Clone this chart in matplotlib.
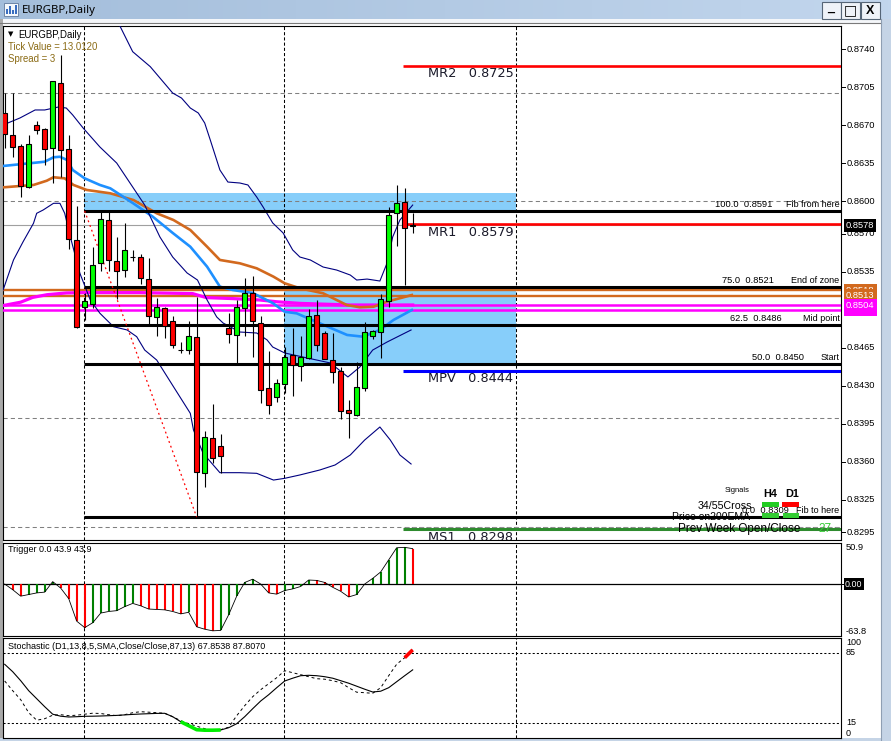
import numpy as np
import matplotlib
matplotlib.use("Agg")
import matplotlib.pyplot as plt
from matplotlib.patches import Rectangle
from matplotlib.colors import LinearSegmentedColormap
from matplotlib.transforms import blended_transform_factory

plt.rcParams['font.family'] = ['Liberation Sans', 'DejaVu Sans']

# ---------------- data ----------------
opens  = [0.86810, 0.86608, 0.86506, 0.86134, 0.86700, 0.86663, 0.86488, 0.87087, 0.86479, 0.85640,
          0.85026, 0.85056, 0.85431, 0.85824, 0.85447, 0.85364, 0.85489, 0.85484, 0.85284, 0.84931,
          0.85016, 0.84894, 0.84629, 0.84627, 0.84746, 0.83499, 0.83816, 0.83742, 0.84832, 0.84765,
          0.85016, 0.85157, 0.84881, 0.84276, 0.84196, 0.84316, 0.84581, 0.84479, 0.84558, 0.84949,
          0.84783, 0.84534, 0.84433, 0.84077, 0.84028, 0.84276, 0.84756, 0.84795, 0.85084, 0.85892,
          0.85996, 0.85775]
highs  = [0.86995, 0.86995, 0.86527, 0.86610, 0.86739, 0.86675, 0.87108, 0.87347, 0.86608, 0.85956,
          0.85155, 0.85576, 0.85904, 0.85904, 0.85671, 0.85797, 0.85548, 0.85514, 0.85477, 0.85111,
          0.85028, 0.84943, 0.84700, 0.84897, 0.85120, 0.83886, 0.84132, 0.83855, 0.84970, 0.85090,
          0.85293, 0.85311, 0.84943, 0.84617, 0.84365, 0.84660, 0.84829, 0.84761, 0.85004, 0.85090,
          0.84804, 0.84789, 0.84470, 0.84171, 0.84519, 0.84885, 0.84814, 0.85143, 0.85944, 0.86150,
          0.86119, 0.85894]
lows   = [0.86491, 0.86405, 0.86042, 0.86125, 0.86620, 0.86334, 0.86171, 0.86226, 0.85557, 0.84829,
          0.84906, 0.85014, 0.85360, 0.85360, 0.85102, 0.85305, 0.85452, 0.85238, 0.84853, 0.84761,
          0.84743, 0.84651, 0.84599, 0.84595, 0.83093, 0.83364, 0.83591, 0.83493, 0.84697, 0.84507,
          0.84761, 0.84568, 0.84138, 0.84042, 0.84147, 0.84230, 0.84208, 0.84347, 0.84549, 0.84620,
          0.84542, 0.84328, 0.83996, 0.83816, 0.84021, 0.84254, 0.84733, 0.84558, 0.85028, 0.85590,
          0.85228, 0.85710]
closes = [0.86620, 0.86497, 0.86143, 0.86525, 0.86654, 0.86479, 0.87105, 0.86469, 0.85655, 0.84844,
          0.85081, 0.85410, 0.85834, 0.85456, 0.85355, 0.85548, 0.85489, 0.85290, 0.84940, 0.85023,
          0.84851, 0.84678, 0.84629, 0.84756, 0.83508, 0.83825, 0.83632, 0.83655, 0.84780, 0.85023,
          0.85152, 0.84894, 0.84258, 0.84120, 0.84322, 0.84568, 0.84491, 0.84568, 0.84943, 0.84673,
          0.84546, 0.84427, 0.84065, 0.84046, 0.84286, 0.84792, 0.84802, 0.85097, 0.85871, 0.85981,
          0.85751, 0.85780]

# Bollinger bands (bar index, price)
upper_x = [12.5, 14.4, 16.0, 18.2, 21.0, 22.1, 23.2, 24.2, 25.0, 25.7, 26.9, 27.9, 29.4, 30.4, 31.5,
           32.3, 33.5, 34.8, 36.0, 36.9, 38.2, 39.8, 41.5, 43.2, 44.0, 45.3, 46.9, 47.8, 48.5, 49.4, 51.0]
upper_y = [0.8790, 0.87615, 0.87378, 0.87240, 0.86997, 0.86951, 0.86859, 0.86813, 0.86721, 0.86564,
           0.86288, 0.86177, 0.86168, 0.86150, 0.86039, 0.85947, 0.85800, 0.85708, 0.85551, 0.85486,
           0.85459, 0.85394, 0.85366, 0.85320, 0.85274, 0.85283, 0.85265, 0.85431, 0.85671, 0.85827,
           0.85965]
mid_x = [-0.2, 1.9, 3.8, 5.0, 6.7, 7.7, 8.5, 9.8, 11.9, 14.0, 16.0, 17.5, 19.4, 21.0, 22.8, 24.1,
         25.3, 26.5, 27.3, 29.4, 31.5, 32.8, 33.5, 35.0, 37.8, 40.7, 42.9, 44.4, 46.0, 47.8, 50.8]
mid_y = [0.86703, 0.86767, 0.86841, 0.86841, 0.86868, 0.86859, 0.86795, 0.86675, 0.86500, 0.86352,
         0.86131, 0.85965, 0.85671, 0.85486, 0.85339, 0.85274, 0.85090, 0.84934, 0.84878, 0.84795,
         0.84786, 0.84722, 0.84657, 0.84602, 0.84556, 0.84510, 0.84381, 0.84473, 0.84629, 0.84703,
         0.84814]
lower_x = [-0.2, 1.1, 2.3, 3.6, 4.0, 4.8, 6.1, 6.9, 7.5, 8.2, 9.4, 10.7, 11.9, 13.6, 15.3, 16.5,
           17.5, 19.0, 21.1, 23.2, 23.6, 24.8, 26.9, 29.4, 31.5, 33.6, 35.0, 36.9, 39.4, 41.3, 43.2,
           45.0, 46.9, 48.2, 49.4, 50.8]
lower_y = [0.85182, 0.85459, 0.85627, 0.85797, 0.85889, 0.85919, 0.85981, 0.85981, 0.85889, 0.85673,
           0.85336, 0.85090, 0.84968, 0.84844, 0.84814, 0.84752, 0.84629, 0.84537, 0.84291, 0.84046,
           0.83892, 0.83678, 0.83499, 0.83499, 0.83493, 0.83431, 0.83447, 0.83478, 0.83524, 0.83570,
           0.83662, 0.83800, 0.83920, 0.83800, 0.83662, 0.83579]

# moving averages
ema_blue_x = [-0.2, 5.0, 6.1, 6.9, 7.8, 8.5, 10.0, 11.9, 13.2, 16.0, 18.5, 21.0, 23.2, 25.3, 26.9,
              28.5, 31.0, 33.5, 35.0, 36.5, 39.4, 42.8, 44.8, 46.9, 48.6, 50.9]
ema_blue_y = [0.86325, 0.86364, 0.86405, 0.86410, 0.86380, 0.86288, 0.86211, 0.86150, 0.86119, 0.85984,
              0.85858, 0.85708, 0.85581, 0.85397, 0.85213, 0.85182, 0.85155, 0.85062, 0.84982, 0.84967,
              0.84875, 0.84768, 0.84752, 0.84814, 0.84906, 0.84998]
ema_orange_x = [-0.2, 3.6, 5.25, 6.1, 7.5, 8.6, 10.25, 13.2, 16.1, 19.0, 21.1, 23.2, 25.3, 26.9, 29.4,
                31.5, 33.6, 35.0, 36.9, 39.8, 42.75, 44.4, 46.1, 47.75, 50.9]
ema_orange_y = [0.86128, 0.86150, 0.86189, 0.86221, 0.86211, 0.86150, 0.86104, 0.86073, 0.86011, 0.85889,
                0.85827, 0.85735, 0.85581, 0.85459, 0.85428, 0.85382, 0.85305, 0.85244, 0.85198, 0.85152,
                0.85044, 0.85023, 0.85028, 0.85074, 0.85136]
ma_magenta_x = [-0.2, 2.0, 3.5, 5.3, 7.7, 9.8, 16.9, 23.5, 25.2, 28.5, 31.9, 34.0, 36.9, 43.2, 51.0]
ma_magenta_y = [0.85039, 0.85070, 0.85114, 0.85139, 0.85155, 0.85158, 0.85158, 0.85149, 0.85112,
                0.85103, 0.85090, 0.85074, 0.85059, 0.85044, 0.85044]

# trigger histogram and stochastic
trigger_vals = [0, -7, -15, -13, -11, -10, 3, -5, -18, -46, -54, -48, -36, -34, -33, -28, -24, -27,
                -31, -31.5, -32, -34, -37, -35, -53, -56, -58, -57.5, -38, -15, 2, 6, 0, -11, -12.5,
                -8, -6, -3, 5, 4.5, 2, -4, -9, -16, -13, 0, 7, 15, 30, 45, 45.5, 43.9]
stoch_main = [73.4, 66, 57, 47, 39, 31, 23.5, 21.5, 20.7, 21, 21.4, 21.5, 21.7, 22, 22.3, 22.8, 23.3,
              23.7, 24, 24.3, 24.4, 21, 16, 12, 8, 7.5, 7.5, 7.7, 10, 14, 21, 29, 36.7, 43, 50, 56.7,
              59.5, 62, 62.4, 62, 61, 59.5, 57, 54.5, 51.5, 48.5, 45.7, 46.5, 50, 56, 62, 67.85]
stoch_signal = [56.7, 47, 38, 25, 17.5, 19, 22.5, 23, 22, 22.5, 23.5, 24.5, 24.2, 23, 22, 23, 25, 26,
                25.5, 25, 24.4, 21, 17, 14, 11.5, 9, 7.5, 8, 10.5, 22, 32, 41, 48, 54, 60, 67, 65, 63,
                61, 59, 58.5, 57, 55, 50, 45.5, 45, 44.4, 50, 62, 73.5, 80, 87.81]

price_ticks = [0.8740, 0.8705, 0.8670, 0.8635, 0.8600, 0.8570, 0.8535, 0.8465, 0.8430, 0.8395,
               0.8360, 0.8325, 0.8295]
grid_levels = [0.8700, 0.8600, 0.8500, 0.8400, 0.8300]
period_seps = [9.95, 34.95, 63.9]

fib_from = (10, 0.8591)
fib_to = (24, 0.8309)
fib_levels = [0.8591, 0.8521, 0.8486, 0.8450, 0.8309]
fib_texts = ["100.0  0.8591", "75.0  0.8521", "62.5  0.8486", "50.0  0.8450", "0.0  0.8309"]
fib_descs = ["Fib from here", "End of zone", "Mid point", "Start", "Fib to here"]
zones = [(9.95, 63.9, 0.8591, 0.86073), (34.95, 63.9, 0.8450, 0.8521)]

pivot_names = ["MR2", "MR1", "MPV", "MS1"]
pivot_vals = [0.8725, 0.8579, 0.8444, 0.8298]
pivot_cols = ['#ff0000', '#ff0000', '#0000ff', '#2e8b2e']
pivot_start = 49.8

orange_levels = [0.8518, 0.8513]
magenta_levels = [0.8504, 0.8500]
bid = 0.8578

# ---------------- figure ----------------
W, H = 891, 741
fig = plt.figure(figsize=(W / 100, H / 100), dpi=100)
fig.patch.set_facecolor('white')


def fbox(x0, y0, x1, y1):
    return [x0 / W, 1 - y1 / H, (x1 - x0) / W, (y1 - y0) / H]


n = len(opens)
XL = (-0.2125, 104.54)

# window chrome (background)
bg = fig.add_axes([0, 0, 1, 1], zorder=-5)
cm = LinearSegmentedColormap.from_list('tb', ['#a4bedb', '#c2d6ed'])
bg.imshow(np.linspace(0, 1, 256)[None, :], extent=(0, W, 19, 0), cmap=cm, aspect='auto')
bg.add_patch(Rectangle((0, 19), W, 4, fc='#f4f6f9', ec='none'))
bg.plot([0, 881], [22.5, 22.5], color='#7a7a7a', lw=0.8)
bg.add_patch(Rectangle((0, 19), 3, H, fc='#a9a9a9', ec='none'))
bg.add_patch(Rectangle((881, 19), 10, H, fc='#c5d4e6', ec='none'))
bg.plot([881, 881], [19, H], color='#8f9fb3', lw=0.8)
bg.add_patch(Rectangle((0, 738), W, 3, fc='#c5d4e6', ec='none'))
bg.set_xlim(0, W)
bg.set_ylim(H, 0)
bg.axis('off')

# ---------------- main panel ----------------
ax = fig.add_axes(fbox(3, 25.5, 841, 540))
ax.set_xlim(*XL)
ax.set_ylim(0.828787, 0.876193)
ax.set_xticks([])
ax.set_yticks([])
for s in ax.spines.values():
    s.set_color('black')
    s.set_linewidth(0.8)

tr = blended_transform_factory(fig.transFigure, ax.transData)

for x0, x1, y0, y1 in zones:
    ax.add_patch(Rectangle((x0, y0), x1 - x0, y1 - y0, fc='#87cefa', ec='none', zorder=1))

for g in grid_levels:
    ax.axhline(g, color='#808080', lw=0.75, ls=(0, (4, 3)), zorder=2)
for v in period_seps:
    ax.axvline(v, color='black', lw=0.75, ls=(0, (3, 2)), zorder=2)

ax.axhline(bid, color='#a0a0a0', lw=0.8, zorder=2)

for lv in orange_levels:
    ax.axhline(lv, color='#d2691e', lw=1.7, zorder=3)
for lv in magenta_levels:
    ax.axhline(lv, color='#ff00ff', lw=1.8, zorder=3)

ax.plot(ma_magenta_x, ma_magenta_y, color='#ff00ff', lw=2.3, zorder=3)
ax.plot(ema_orange_x, ema_orange_y, color='#d2691e', lw=1.9, zorder=4)
ax.plot(ema_blue_x, ema_blue_y, color='#1e90ff', lw=1.9, zorder=4)
for bx, by in ((upper_x, upper_y), (mid_x, mid_y), (lower_x, lower_y)):
    ax.plot(bx, by, color='#000080', lw=0.8, zorder=4)

for lv in fib_levels:
    ax.plot([period_seps[0], XL[1]], [lv, lv], color='black', lw=2.2, zorder=5, solid_capstyle='butt')
ax.plot([fib_from[0], fib_to[0]], [fib_from[1], fib_to[1]], color='red', lw=0.9,
        ls=(0, (1.5, 2.5)), zorder=5)

for name, val, col in zip(pivot_names, pivot_vals, pivot_cols):
    ax.plot([pivot_start, XL[1]], [val, val], color=col,
            lw=2.2 if name != 'MR1' and name != 'MR2' else 1.9, zorder=5, solid_capstyle='butt')
ax.axhline(0.8300, xmin=0.48, color='#909090', lw=0.75, ls=(0, (4, 3)), zorder=6)

# candles
for i in range(n):
    o, h, l, c = opens[i], highs[i], lows[i], closes[i]
    col = '#00ff00' if c > o else '#ff0000'
    ax.plot([i, i], [l, h], color='black', lw=0.8, zorder=7, solid_capstyle='butt')
    ax.add_patch(Rectangle((i - 0.33, min(o, c)), 0.66, abs(c - o), fc=col, ec='black',
                           lw=0.8, zorder=8))

# labels in the chart
px = 1.0 / 10853.0
for t, d, lv, xs in zip(fib_texts, fib_descs, fib_levels, [715, 722, 730, 752, 742]):
    ax.text(xs / W, lv + 6.5 * px, t, transform=tr, fontsize=6.7, va='center', ha='left', zorder=9)
    ax.text(839.5 / W, lv + 6.5 * px, d, transform=tr, fontsize=6.5, va='center', ha='right', zorder=9)

for name, val in zip(pivot_names, pivot_vals):
    t = ax.text(428 / W, val - 8 * px, f"{name}   {val:.4f}", transform=tr, fontsize=9.3,
                family=['DejaVu Sans'], color='#1a1a2a', va='center', ha='left', zorder=9)
    t.set_clip_on(True)

# right price scale
for p in price_ticks:
    ax.plot([841 / W, 845 / W], [p, p], transform=tr, color='black', lw=0.7, clip_on=False)
    ax.text(847 / W, p, f"{p:.4f}", transform=tr, fontsize=6.7, va='center', ha='left',
            clip_on=False)

box_kw = dict(boxstyle='square,pad=0.22', ec='none')
for p, fc in [(0.8518, '#d2691e'), (0.8500, '#ff00ff'), (0.8513, '#d2691e'), (0.8504, '#ff00ff')]:
    ax.text(846 / W, p, f"{p:.4f}", transform=tr, fontsize=6.7, va='center', ha='left',
            color='white', bbox=dict(fc=fc, **box_kw), clip_on=False)
ax.text(846 / W, bid, f"{bid:.4f}", transform=tr, fontsize=6.7, va='center', ha='left',
        color='white', bbox=dict(fc='black', **box_kw), clip_on=False)

# ---------------- trigger panel ----------------
axt = fig.add_axes(fbox(3, 543, 841, 635.5))
axt.set_xlim(*XL)
axt.set_ylim(-63.8, 50.9)
axt.set_xticks([])
axt.set_yticks([])
for s in axt.spines.values():
    s.set_linewidth(0.8)
trt = blended_transform_factory(fig.transFigure, axt.transData)
for v in period_seps:
    axt.axvline(v, color='black', lw=0.75, ls=(0, (3, 2)))
axt.axhline(0, color='black', lw=0.9)
for i in range(1, n):
    col = '#008000' if trigger_vals[i] >= trigger_vals[i - 1] else '#ff0000'
    axt.plot([i, i], [0, trigger_vals[i]], color=col, lw=1.5, solid_capstyle='butt')
axt.plot(range(n), trigger_vals, color='black', lw=0.6)
axt.text(8 / W, 0.93, "Trigger 0.0 43.9 43.9", transform=blended_transform_factory(fig.transFigure, axt.transAxes),
         fontsize=6.5, va='center', ha='left')
for p, lab, va in [(50.9, '50.9', 'top'), (-63.8, '-63.8', 'bottom')]:
    axt.text(846 / W, p, lab, transform=trt, fontsize=6.7, va=va, ha='left', clip_on=False)
axt.plot([841 / W, 845 / W], [0, 0], transform=trt, color='black', lw=0.7, clip_on=False)
axt.text(845 / W, 0, "0.00", transform=trt, fontsize=6.4, va='center', ha='left', color='white',
         bbox=dict(fc='black', boxstyle='square,pad=0.12', ec='none'), clip_on=False)

# ---------------- stochastic panel ----------------
axs = fig.add_axes(fbox(3, 637.7, 841, 737.7))
axs.set_xlim(*XL)
axs.set_ylim(0, 100)
axs.set_xticks([])
axs.set_yticks([])
for s in axs.spines.values():
    s.set_linewidth(0.8)
trs = blended_transform_factory(fig.transFigure, axs.transData)
for v in period_seps:
    axs.axvline(v, color='black', lw=0.75, ls=(0, (3, 2)))
for lv in (85, 15):
    axs.axhline(lv, color='black', lw=0.75, ls=(0, (2, 2)))
axs.plot(range(n), stoch_main, color='black', lw=0.8)
axs.plot(range(n), stoch_signal, color='black', lw=0.7, ls=(0, (3, 3)))
axs.plot(range(22, 28), stoch_main[22:28], color='#00ee00', lw=2.6, solid_capstyle='butt')
axs.plot(range(50, 52), stoch_signal[50:52], color='#ff0000', lw=2.6, solid_capstyle='butt')
axs.text(8 / W, 91, "Stochastic (D1,13,8,5,SMA,Close/Close,87,13) 67.8538 87.8070", transform=trs,
         fontsize=6.5, va='center', ha='left')
for p, lab, va in [(100, '100', 'top'), (85, '85', 'center'), (15, '15', 'center'), (0, '0', 'bottom')]:
    axs.text(846 / W, p, lab, transform=trs, fontsize=6.5, va=va, ha='left', clip_on=False)

# ---------------- overlay (title bar, texts, signals) ----------------
ov = fig.add_axes([0, 0, 1, 1], zorder=10)
ov.set_xlim(0, W)
ov.set_ylim(H, 0)
ov.axis('off')

# title bar
ov.add_patch(Rectangle((3.5, 3), 14, 13, fc='#f4f8fc', ec='#6f86a6', lw=0.7))
for k, hh in enumerate([5, 8, 4, 9]):
    ov.add_patch(Rectangle((6 + k * 3, 14 - hh), 1.6, hh, fc='#3a6ec0', ec='none'))
ov.text(22, 10, "EURGBP,Daily", fontsize=8.2, va='center', ha='left', family=['Noto Sans', 'DejaVu Sans'])
for bx, glyph in [(822, '_'), (841, '□'), (861, 'X')]:
    ov.add_patch(Rectangle((bx, 1.5), 18.5, 17, fc='#eef2f8', ec='#556577', lw=0.8))
ov.text(830.5, 7.5, '_', fontsize=9, fontweight='bold', ha='center', va='center')
ov.text(850.2, 10.5, '□', fontsize=10, ha='center', va='center', family=['DejaVu Sans'])
ov.text(870.2, 10.5, 'X', fontsize=9, fontweight='bold', ha='center', va='center')

# top-left info
ov.text(8, 34.5, '▼', fontsize=5, va='center', ha='left', family=['DejaVu Sans'])
ov.text(18.5, 34.5, "EURGBP,Daily", fontsize=6.9, va='center', ha='left')
ov.text(8, 47, "Tick Value = 13.0120", fontsize=6.9, va='center', ha='left', color='#8a6a14')
ov.text(8, 59.5, "Spread = 3", fontsize=6.9, va='center', ha='left', color='#8a6a14')

# signals block
ov.text(725, 491, "Signals", fontsize=5.4, va='center', ha='left')
ov.text(763, 494, "H4", fontsize=7.8, fontweight='bold', va='center', ha='left')
ov.text(785, 494, "D1", fontsize=7.8, fontweight='bold', va='center', ha='left')
ov.add_patch(Rectangle((762, 502), 16.5, 5, fc='#22cc22', ec='none'))
ov.add_patch(Rectangle((782, 502), 17, 5, fc='#ff0000', ec='none'))
ov.add_patch(Rectangle((762, 513), 16.5, 4.5, fc='#33cc33', ec='none'))
ov.add_patch(Rectangle((782.5, 513), 16.5, 4.5, fc='#33cc33', ec='none'))
ov.text(752, 506, "34/55Cross", fontsize=7.7, va='center', ha='right')
ov.text(750, 517, "Price on200EMA", fontsize=7.5, va='center', ha='right')
ov.text(800, 529, "Prev Week Open/Close", fontsize=8.5, va='center', ha='right')
ov.text(818, 528.5, "27", fontsize=8.5, va='center', ha='left', color='#33cc33')

fig.savefig('out.png', dpi=100, facecolor='white')
